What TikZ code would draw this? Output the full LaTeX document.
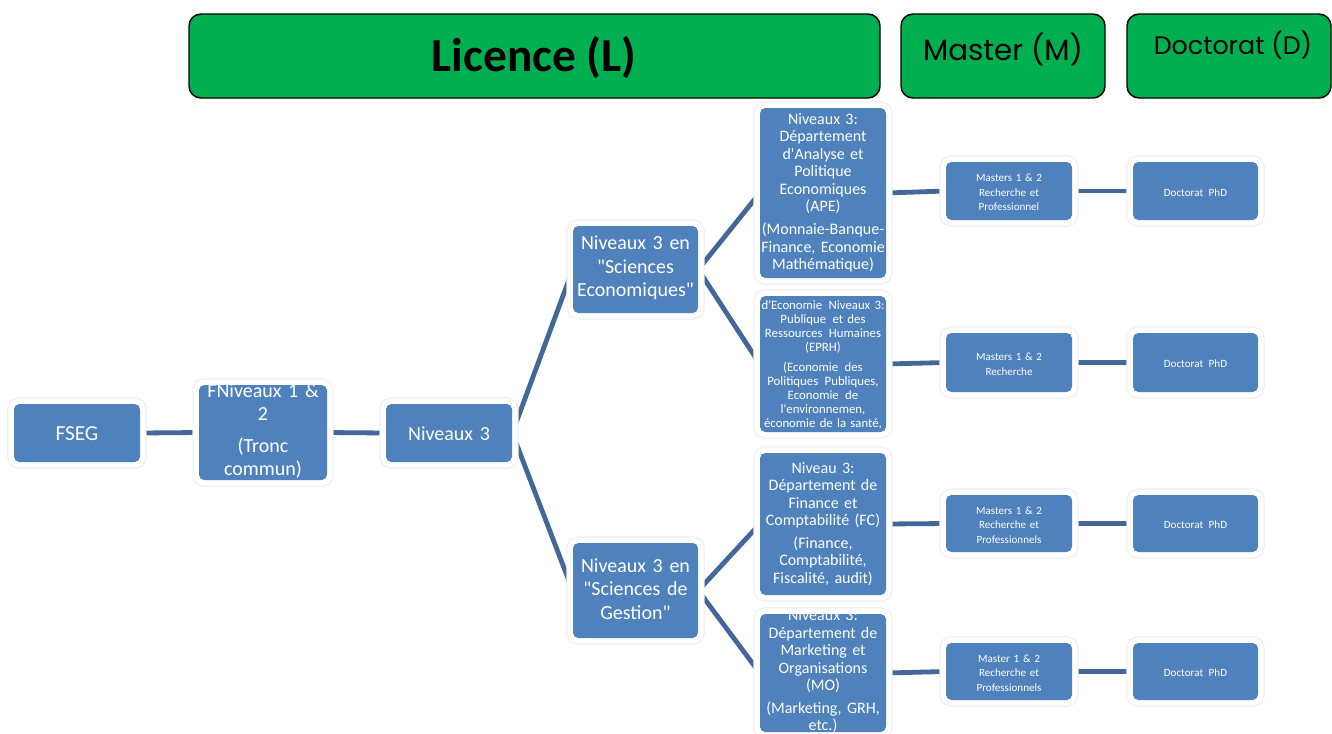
\documentclass[tikz,border=0pt]{standalone}
\usepackage{fontspec}
\setmainfont{Carlito}[Ligatures=TeXOff]
\newfontfamily\popp{Poppins}
\usetikzlibrary{fit,backgrounds}
\definecolor{bblue}{HTML}{4F81BD}
\definecolor{lgreen}{HTML}{00B050}
\definecolor{cblue}{HTML}{44679A}
\newcommand\bxn[5]{\node[bx, fit={(#2) (#3)}, path picture={\node[btxt,#4] (#1t) at (path picture bounding box.center) {#5};}] (#1) {};}
\begin{document}
\begin{tikzpicture}[x=0.75pt,y=-0.75pt,
  bx/.style={inner sep=0pt, rounded corners=4pt, fill=bblue,
    preaction={draw=black!7, line width=10pt},
    preaction={draw=white, line width=8.5pt}},
  btxt/.style={text=white, align=center, inner sep=0pt, yshift=-4pt},
  big/.style={font=\fontsize{15}{17.5}\selectfont, text width=92pt},
  dept/.style={font=\fontsize{12}{13.1}\selectfont, text width=93pt},
  deps/.style={font=\fontsize{9.6}{10.5}\selectfont, text width=93pt},
  sml/.style={font=\fontsize{8.3}{11}\selectfont, text width=93pt},
  hdr/.style={inner sep=0pt, rounded corners=9pt, fill=lgreen, draw=black, line width=1.1pt},
  conn/.style={draw=cblue, line width=3.6pt}]
\useasboundingbox (0,0) rectangle (1332,733);

% headers
\node[hdr, fit={(189,14) (880,98)}] (lic) {};
\node[anchor=base, font=\bfseries\fontsize{35.5}{40}\selectfont] (lict) at (534,71) {Licence (L)};
\node[hdr, fit={(901,14) (1105,98)}] (mas) {};
\node[anchor=base, font=\popp\fontsize{22}{24}\selectfont] (mast) at (1003,60) {Master (M)};
\node[hdr, fit={(1127,14) (1331,98)}] (doc) {};
\node[anchor=base, font=\popp\fontsize{19}{22}\selectfont] (doct) at (1233,54) {Doctorat (D)};

% boxes
\bxn{fseg}{14,404}{140,462}{big,font=\fontsize{16}{18}\selectfont,yshift=-2pt}{FSEG}
\bxn{niv12}{199,385}{327,480}{big}{FNiveaux 1 \&\\2\\[6pt](Tronc\\commun)}
\bxn{niv3}{386,404}{512,462}{big,yshift=-2pt}{Niveaux 3}
\bxn{eco}{573,226}{698,313}{big}{Niveaux 3 en\\"Sciences\\Economiques"}
\bxn{ges}{573,543}{698,638}{big}{Niveaux 3 en\\"Sciences de\\Gestion"}

\bxn{ape}{760,108}{886,278}{dept}{Niveaux 3:\\Département\\d'Analyse et\\Politique\\Economiques\\(APE)\\[4pt](Monnaie-Banque-\\Finance, Economie\\Mathématique)}
\bxn{eprh}{760,296}{886,432}{deps}{d'Economie\enspace Niveaux 3:\\Publique\enspace et des\\Ressources\enspace Humaines\\(EPRH)\\[5pt](Economie\enspace des\\Politiques\enspace Publiques,\\Economie\enspace de\\l'environnemen,\\économie de la santé,}
\bxn{fc}{760,453}{886,595}{dept}{Niveau 3:\\Département de\\Finance et\\Comptabilité (FC)\\[4pt](Finance,\\Comptabilité,\\Fiscalité, audit)}
\bxn{mo}{760,614}{886,732}{dept,yshift=1pt}{Niveaux 3:\\Département de\\Marketing et\\Organisations\\(MO)\\[4pt](Marketing, GRH,\\etc.)}

\bxn{m1}{946,162}{1072,220}{sml}{Masters 1 \& 2\\Recherche et\\Professionnel}
\bxn{m2}{946,333}{1072,392}{sml}{Masters 1 \& 2\\Recherche}
\bxn{m3}{946,495}{1072,552}{sml}{Masters 1 \& 2\\Recherche et\\Professionnels}
\bxn{m4}{946,643}{1072,700}{sml}{Master 1 \& 2\\Recherche et\\Professionnels}

\bxn{d1}{1133,162}{1258,220}{sml}{Doctorat\enspace PhD}
\bxn{d2}{1133,333}{1258,392}{sml}{Doctorat\enspace PhD}
\bxn{d3}{1133,495}{1258,552}{sml}{Doctorat\enspace PhD}
\bxn{d4}{1133,643}{1258,700}{sml}{Doctorat\enspace PhD}

\begin{pgfonlayer}{background}
\fill[white] (0,0) rectangle (1332,733);
\draw[conn] (fseg.east) -- (niv12.west);
\draw[conn] (niv12.east) -- (niv3.west);
\draw[conn] (niv3.east) -- (eco.west);
\draw[conn] (niv3.east) -- (ges.west);
\draw[conn] (eco.east) -- (ape.west);
\draw[conn] (eco.east) -- (eprh.west);
\draw[conn] (ges.east) -- (fc.west);
\draw[conn] (ges.east) -- (mo.west);
\draw[conn] (ape.east) -- (m1.west);
\draw[conn] (eprh.east) -- (m2.west);
\draw[conn] (fc.east) -- (m3.west);
\draw[conn] (mo.east) -- (m4.west);
\draw[conn] (m1.east) -- (d1.west);
\draw[conn] (m2.east) -- (d2.west);
\draw[conn] (m3.east) -- (d3.west);
\draw[conn] (m4.east) -- (d4.west);
\end{pgfonlayer}
\end{tikzpicture}
\end{document}
